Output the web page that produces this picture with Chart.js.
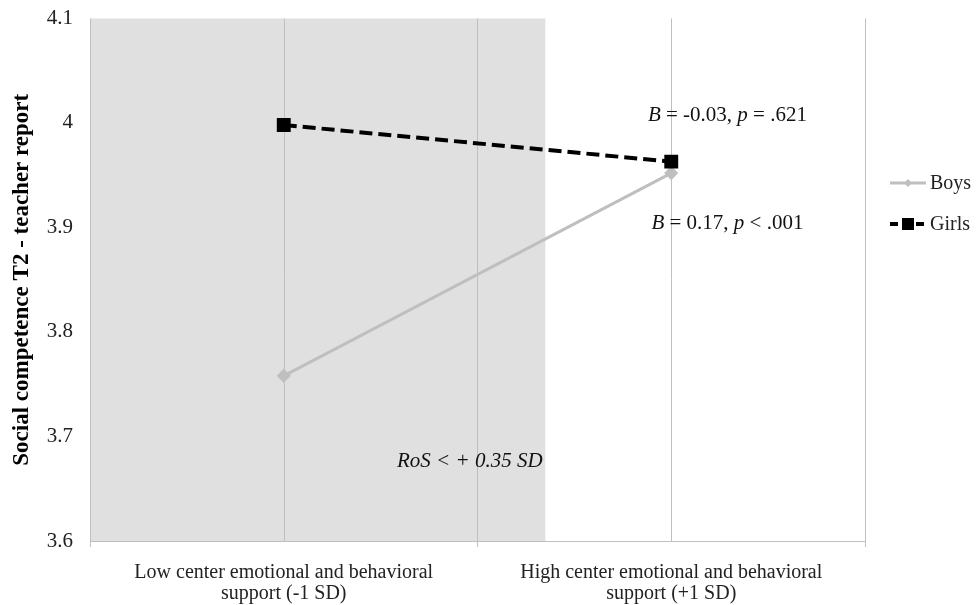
<!DOCTYPE html>
<html>
<head>
<meta charset="utf-8">
<script src="https://cdn.jsdelivr.net/npm/chart.js@4"></script>
<style>
  html, body { margin: 0; padding: 0; background: #fff; }
  #wrap { width: 978px; height: 605px; }
</style>
</head>
<body>
<div id="wrap"><canvas id="chart" width="978" height="605"></canvas></div>
<script>
// chart values
const categories = [
  ["Low center emotional and behavioral", "support (-1 SD)"],
  ["High center emotional and behavioral", "support (+1 SD)"]
];
const boys = [3.758, 3.952];
const girls = [3.998, 3.963];
const yTicks = [3.6, 3.7, 3.8, 3.9, 4.0, 4.1];
const regionEnd = 0.675; // +0.35 SD on the -1..+1 SD axis

// annotations: text pieces [text, italic], anchored in data units
const noteParts = [
  [["B", true], [" = -0.03, ", false], ["p", true], [" = .621", false]],
  [["B", true], [" = 0.17, ", false], ["p", true], [" < .001", false]],
  [["RoS < + 0.35 SD", true]]
];
const noteX = [1.145, 1.145, 0.48];
const noteY = [4.007, 3.904, 3.676];

const FONT = "'Liberation Serif', 'Times New Roman', serif";
const GRID = "#bfbfbf";

const bgPlugin = {
  id: "shade",
  beforeDraw(chart) {
    const { ctx, chartArea, scales } = chart;
    const xEnd = scales.x.getPixelForValue(regionEnd);
    ctx.save();
    ctx.fillStyle = "#e0e0e0";
    ctx.fillRect(chartArea.left, chartArea.top, xEnd - chartArea.left, chartArea.bottom - chartArea.top);
    ctx.restore();
  },
  beforeDatasetsDraw(chart) {
    // vertical lines at the category centres
    const { ctx, chartArea, scales } = chart;
    ctx.save();
    ctx.strokeStyle = GRID;
    ctx.lineWidth = 1;
    categories.forEach((c, i) => {
      const x = Math.round(scales.x.getPixelForValue(i)) + 0.5;
      ctx.beginPath();
      ctx.moveTo(x, chartArea.top);
      ctx.lineTo(x, chartArea.bottom);
      ctx.stroke();
    });
    ctx.restore();
  },
  afterDraw(chart) {
    const { ctx, chartArea, scales } = chart;
    ctx.save();
    ctx.fillStyle = "#111";
    ctx.textBaseline = "middle";
    noteParts.forEach((parts, i) => {
      const fontOf = it => (it ? "italic " : "") + "21px " + FONT;
      let w = 0;
      parts.forEach(([t, it]) => { ctx.font = fontOf(it); w += ctx.measureText(t).width; });
      let x = scales.x.getPixelForValue(noteX[i]) - w / 2;
      const y = scales.y.getPixelForValue(noteY[i]);
      ctx.textAlign = "left";
      parts.forEach(([t, it]) => {
        ctx.font = fontOf(it);
        ctx.fillText(t, x, y);
        x += ctx.measureText(t).width;
      });
    });

    // legend on the right
    const sets = chart.data.datasets;
    const lx = chartArea.right + 25;
    const legendY = [183, 224];
    sets.forEach((ds, i) => {
      const y = legendY[i];
      ctx.strokeStyle = ds.borderColor;
      ctx.lineWidth = ds.borderWidth;
      ctx.setLineDash(i === 1 ? [8, 5] : []);
      ctx.beginPath();
      ctx.moveTo(lx, y);
      ctx.lineTo(lx + 36, y);
      ctx.stroke();
      ctx.setLineDash([]);
      ctx.fillStyle = ds.pointBackgroundColor;
      if (i === 1) {
        ctx.fillRect(lx + 12, y - 6, 12, 12);
      } else {
        ctx.beginPath();
        ctx.moveTo(lx + 18, y - 4);
        ctx.lineTo(lx + 22, y);
        ctx.lineTo(lx + 18, y + 4);
        ctx.lineTo(lx + 14, y);
        ctx.closePath();
        ctx.fill();
      }
      ctx.fillStyle = "#222";
      ctx.font = "20px " + FONT;
      ctx.textAlign = "left";
      ctx.fillText(ds.label, lx + 40, y + 1);
    });
    ctx.restore();
  }
};

new Chart(document.getElementById("chart"), {
  type: "line",
  data: {
    labels: categories,
    datasets: [
      {
        label: "Boys",
        data: boys,
        borderColor: "#bfbfbf",
        backgroundColor: "#bfbfbf",
        pointBackgroundColor: "#bfbfbf",
        pointBorderColor: "#bfbfbf",
        borderWidth: 3,
        pointStyle: "rectRot",
        pointRadius: 5,
        order: 2
      },
      {
        label: "Girls",
        data: girls,
        borderColor: "#000",
        backgroundColor: "#000",
        pointBackgroundColor: "#000",
        pointBorderColor: "#000",
        borderWidth: 4,
        borderDash: [13, 6],
        pointStyle: "rect",
        pointRadius: 7,
        order: 1
      }
    ]
  },
  options: {
    responsive: false,
    animation: false,
    layout: { padding: { top: 0, right: 113, left: 0, bottom: 0 } },
    plugins: { legend: { display: false }, tooltip: { enabled: false } },
    scales: {
      x: {
        offset: true,
        grid: { offset: true, color: GRID, tickLength: 6, drawOnChartArea: true },
        border: { color: GRID },
        ticks: { color: "#222", font: { family: FONT, size: 20, lineHeight: 1.05 }, maxRotation: 0, padding: 15 },
        afterFit(s) { s.height = 64; }
      },
      y: {
        min: 3.6,
        max: 4.1,
        afterBuildTicks(s) { s.ticks = yTicks.map(v => ({ value: v })); },
        grid: { display: false },
        border: { display: false },
        ticks: {
          color: "#222",
          font: { family: FONT, size: 21, lineHeight: 0.9 },
          padding: 9,
          callback: v => (Math.round(v * 10) / 10).toString()
        },
        title: {
          display: true,
          text: "Social competence T2 - teacher report",
          color: "#000",
          font: { family: FONT, size: 23, weight: "bold" },
          padding: { top: 8, bottom: 0 }
        },
        afterFit(s) { s.width = 90; }
      }
    }
  },
  plugins: [bgPlugin]
});
</script>
</body>
</html>
